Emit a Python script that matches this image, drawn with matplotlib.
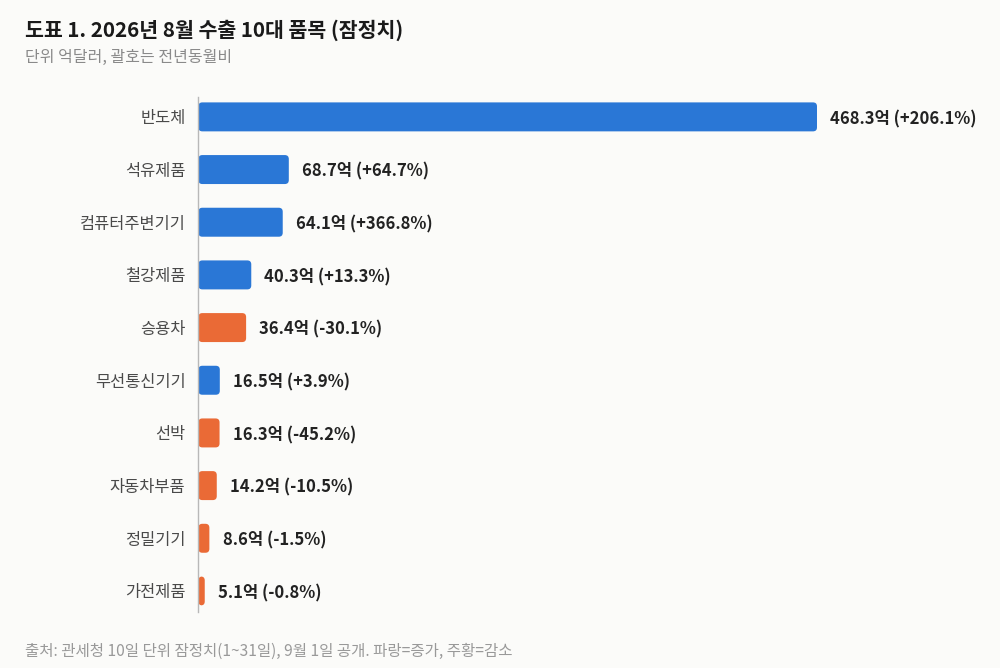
import matplotlib
matplotlib.use("Agg")
import matplotlib.pyplot as plt
from matplotlib.patches import FancyBboxPatch

plt.rcParams['font.family'] = ['Noto Sans CJK KR', 'DejaVu Sans']

items = ["반도체", "석유제품", "컴퓨터주변기기", "철강제품", "승용차",
         "무선통신기기", "선박", "자동차부품", "정밀기기", "가전제품"]
values = [468.3, 68.7, 64.1, 40.3, 36.4, 16.5, 16.3, 14.2, 8.6, 5.1]
yoy = [206.1, 64.7, 366.8, 13.3, -30.1, 3.9, -45.2, -10.5, -1.5, -0.8]

BLUE = "#2a77d6"
ORANGE = "#ea6a36"
BG = "#fbfbf9"

fig = plt.figure(figsize=(10, 6.68), dpi=100, facecolor=BG)
ax = fig.add_axes([0.198, 0.0838, 0.762, 0.7712])
ax.set_facecolor(BG)

xmax = 468.3 * 762 / 619
ax.set_xlim(0, xmax)
ax.set_ylim(len(items) - 1 + 0.4, -0.38)

bar_h = 0.55
r_x = 3.0
aspect = 0.075 / r_x
for i, (v, p) in enumerate(zip(values, yoy)):
    color = BLUE if p >= 0 else ORANGE
    patch = FancyBboxPatch((0.3, i - bar_h / 2), v - 0.3, bar_h,
                           boxstyle=f"round,pad=0,rounding_size={r_x}",
                           mutation_aspect=aspect,
                           fc=color, ec="none")
    ax.add_patch(patch)
    ax.text(v + 10, i + 0.04, f"{v:.1f}억 ({p:+.1f}%)", va="center", ha="left",
            fontsize=12, fontweight="bold", color="#222222")

ax.set_yticks(range(len(items)))
ax.set_yticklabels(items, fontsize=11.8, color="#4a4a4a")
ax.tick_params(axis="y", length=0, pad=9)
ax.set_xticks([])
for s in ["top", "right", "bottom"]:
    ax.spines[s].set_visible(False)
ax.spines["left"].set_color("#b8b8b8")
ax.spines["left"].set_linewidth(1)

fig.text(0.025, 0.955, "도표 1. 2026년 8월 수출 10대 품목 (잠정치)",
         fontsize=14.8, fontweight="bold", color="#1a1a1a", va="center")
fig.text(0.025, 0.914, "단위 억달러, 괄호는 전년동월비",
         fontsize=11.5, color="#8a8a8a", va="center")
fig.text(0.025, 0.025, "출처: 관세청 10일 단위 잠정치(1~31일), 9월 1일 공개. 파랑=증가, 주황=감소",
         fontsize=11.2, color="#999999", va="center")

fig.savefig("out.png", dpi=100, facecolor=BG)
